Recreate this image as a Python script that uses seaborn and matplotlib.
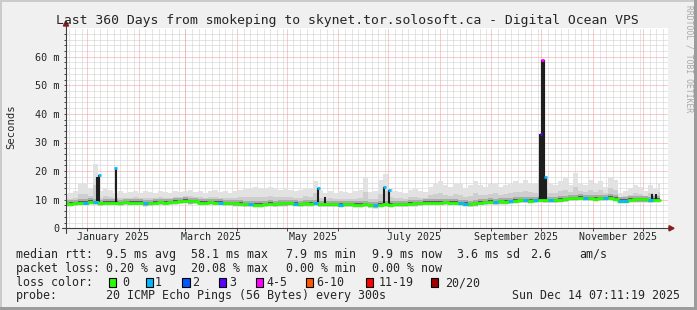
import numpy as np
import pandas as pd
import matplotlib
matplotlib.use("Agg")
import matplotlib.pyplot as plt
import seaborn as sns
from matplotlib.patches import Rectangle
from matplotlib.lines import Line2D

# ---------------- data ----------------
start = pd.Timestamp("2024-12-19 07:11:19")
span_days = 360
step_days = 3

median_ms = [8.7, 8.6, 8.8, 8.9, 9.0,
             9.3, 9.2,
             8.8, 8.9, 9.0,
             9.0, 8.8, 9.1, 8.9, 9.0,
             8.9, 8.7, 8.8, 9.0, 9.1, 9.0, 9.2, 9.3,
             9.5, 9.6, 9.4, 9.5,
             9.0, 8.9, 9.1, 9.0, 8.9, 8.8, 8.8,
             8.7, 8.6, 8.5, 8.4,
             8.3, 8.2, 8.4, 8.6, 8.5, 8.7,
             8.7, 8.8, 8.6, 8.5, 8.7, 8.6,
             8.8, 8.5, 8.4, 8.5, 8.4, 8.3, 8.4,
             8.4, 8.3, 8.2, 8.4, 8.1, 8.0, 8.2,
             8.4, 8.3, 8.4, 8.5, 8.5, 8.6, 8.7, 8.8, 8.9, 9.0, 8.9,
             9.0, 9.1, 8.9, 9.0, 8.8, 8.6,
             8.5, 8.7, 8.9,
             9.2, 9.3, 9.2, 9.4, 9.3, 9.5, 9.6,
             9.8, 9.9, 9.7, 9.9, 10.0,
             9.8, 9.9, 9.9, 10.0, 10.2,
             10.5, 10.6, 10.7, 10.5, 10.6, 10.4, 10.6, 10.5, 10.7, 10.4,
             9.6, 9.6,
             10.0, 10.1, 10.1, 10.1, 9.9, 10.0, 10.0]

smoke_max_ms = [12.0, 12.5, 13.0, 15.5, 15.8, 14.0,
                22.5,
                13.0, 14.0, 13.5, 12.5, 13.0, 12.5, 12.8, 13.0,
                12.5, 13.0, 12.8, 12.5, 13.0, 12.8, 12.5, 13.0, 12.8, 13.2,
                13.5, 12.8, 13.0, 12.5, 13.0, 13.3, 12.8, 13.0, 12.5,
                13.0, 13.5, 13.8, 14.0, 14.5, 14.0, 13.8, 14.5, 14.0, 13.5,
                14.0, 13.5, 13.0, 13.5, 14.2, 13.8,
                16.5,
                13.5, 12.5, 13.0, 12.5, 13.0, 12.8,
                12.5, 13.0, 13.5, 18.0, 12.8, 13.0, 17.0,
                19.0, 14.0, 13.0, 12.8, 12.5, 13.5, 14.0, 13.0, 12.8, 14.5, 15.5,
                16.5, 15.0, 14.5, 16.0, 15.5, 14.0, 15.0, 16.5, 15.0, 14.5,
                15.5, 16.0, 14.5, 15.0, 15.5, 16.5,
                16.0, 17.0, 16.0, 15.5, 25.0,
                18.0, 15.5, 15.0, 16.5, 17.5, 15.0, 19.5, 16.0, 15.0, 17.0,
                15.5, 16.5, 14.5, 18.0, 17.0,
                12.5, 13.0, 14.0, 15.0, 14.5, 13.0, 15.0, 14.0, 16.0]

loss_count = [0, 0, 0, 0, 1, 0, 1, 0, 0, 0, 0, 0, 0, 0, 0, 0, 1, 0, 0, 0,
              0, 0, 0, 0, 0, 0, 0, 0, 0, 0, 0, 1, 0, 0, 0, 0, 0, 1, 0, 0,
              0, 0, 0, 0, 0, 0, 1, 0, 0, 0, 1, 0, 0, 0, 0, 1, 0, 0, 0, 0,
              0, 0, 1, 0, 0, 0, 0, 0, 0, 0, 0, 0, 0, 0, 0, 0, 0, 0, 0, 1,
              1, 0, 0, 0, 0, 0, 1, 0, 0, 1, 0, 0, 1, 0, 1, 0, 0, 1, 0, 0,
              0, 0, 0, 0, 1, 0, 0, 0, 1, 0, 0, 1, 1, 0, 0, 0, 0, 1, 0, 0]

# short high-latency events (day offset, peak ms, loss count)
spike_day = [18.6, 20.1, 29.9, 151.6, 155.7, 191.3, 194.3, 286.4, 285.5, 288.2, 352.2, 354.6]
spike_top = [18.0, 18.8, 21.0, 14.0, 10.8, 14.3, 13.4, 59.0, 33.0, 18.0, 12.0, 12.0]
spike_loss = [0, 1, 1, 1, 0, 1, 1, 4, 3, 1, 0, 0]

legend_labels = ["0", "1", "2", "3", "4-5", "6-10", "11-19", "20/20"]
legend_colors = ["#26ff00", "#00b8ff", "#0059ff", "#5e00ff", "#ff00ff", "#ff5500", "#ff0000", "#a10000"]
loss_bins = [0, 1, 2, 3, 4, 6, 11, 20]

title = "Last 360 Days from smokeping to skynet.tor.solosoft.ca - Digital Ocean VPS"
ytick_vals = [0, 10, 20, 30, 40, 50, 60]
ytick_labels = ["0", "10 m", "20 m", "30 m", "40 m", "50 m", "60 m"]
month_label_names = ["January 2025", "March 2025", "May 2025", "July 2025",
                     "September 2025", "November 2025"]

df = pd.DataFrame({
    "day": np.arange(len(median_ms)) * step_days,
    "median": median_ms,
    "smax": smoke_max_ms,
    "loss": loss_count,
})


def loss_color(n):
    c = legend_colors[0]
    for b, col in zip(loss_bins, legend_colors):
        if n >= b:
            c = col
    return c


# ---------------- figure ----------------
sns.set_style("white")
plt.rcParams["font.family"] = ["DejaVu Sans Mono", "DejaVu Sans"]

W, H = 697, 310
fig = plt.figure(figsize=(W / 100, H / 100), dpi=100, facecolor="#f0f0f0")


def fx(x):
    return x / W


def fy(y):
    return 1 - y / H


px_per_day = 599.0 / 360.0
px_per_ms = 2.86
x0, y0 = 66.0, 228.3
ymax = 69.9
xmax = 361.8
ax_top = y0 - ymax * px_per_ms
ax_right = x0 + xmax * px_per_day
ax = fig.add_axes([fx(x0), fy(y0), fx(ax_right) - fx(x0), fy(ax_top) - fy(y0)])
ax.set_facecolor("white")
ax.set_xlim(0, xmax)
ax.set_ylim(0, ymax)
for s in ax.spines.values():
    s.set_visible(False)

# grid
dot = (0, (1, 1))
grid_gray = "#cdcdcd"
grid_red = "#f29a9a"
for v in np.arange(2, 70, 2):
    if v % 10:
        ax.axhline(v, color=grid_gray, lw=0.72, ls=dot, zorder=0)
months_all = pd.date_range("2024-12-01", "2025-12-01", freq="MS")
for m in months_all:
    for off in [4, 8, 12, 16, 20, 24, 28]:
        d = (m + pd.Timedelta(days=off) - start) / pd.Timedelta(days=1)
        if 0 < d < xmax:
            ax.axvline(d, color=grid_gray, lw=0.72, ls=dot, zorder=0)
month_starts = pd.date_range("2025-01-01", "2025-12-01", freq="MS")
ms_days = [(m - start) / pd.Timedelta(days=1) for m in month_starts]
for d in ms_days:
    ax.axvline(d, color=grid_red, lw=0.72, ls=dot, zorder=0.5)
for v in range(10, 70, 10):
    ax.axhline(v, color=grid_red, lw=0.72, ls=dot, zorder=0.5)

# smoke
days = df["day"].values
med = df["median"].values
smax = df["smax"].values
ax.fill_between(days, med - 1.1, smax, step="mid", color="#e2e2e2", lw=0, zorder=1)
ax.fill_between(days, med - 0.9, med + 0.45 * (smax - med), step="mid", color="#cecece", lw=0, zorder=1.05)
ax.fill_between(days, med - 0.75, np.minimum(med + 1.2, smax), step="mid", color="#aaaaaa", lw=0, zorder=1.1)
ax.fill_between(days, med - 0.55, med + 0.5, step="mid", color="#5e5e5e", lw=0, zorder=1.2)

# spikes
for d, t, l in zip(spike_day, spike_top, spike_loss):
    base = np.interp(d, days, med)
    lw = 3.0 if t > 30 else 1.5
    ax.vlines(d, base, t, color="#1e1e1e", lw=lw, zorder=2)

# median line
sns.lineplot(data=df, x="day", y="median", drawstyle="steps-mid", color=legend_colors[0],
             lw=2.0, ax=ax, zorder=3, legend=False)
for d, m, l in zip(days, med, df["loss"].values):
    if l > 0:
        ax.hlines(m, d - step_days / 2, d + step_days / 2, color=loss_color(l), lw=2.0, zorder=3.1)
for d, t, l in zip(spike_day, spike_top, spike_loss):
    if l > 0:
        ax.hlines(t, d - 0.8, d + 0.8, color=loss_color(l), lw=2.0, zorder=3.2)

ax.set_xlabel("")
ax.set_ylabel("")

# ticks
ax.set_yticks(ytick_vals)
ax.set_yticklabels(ytick_labels)
ax.set_yticks(np.arange(2, 70, 2), minor=True)
ax.tick_params(axis="y", which="both", direction="out", length=1.8, width=0.7,
               color="#444444", labelsize=7.3, pad=3.2, left=True)
label_days = []
for name in month_label_names:
    m = pd.Timestamp(pd.to_datetime(name, format="%B %Y"))
    nxt = m + pd.offsets.MonthBegin(1)
    label_days.append(((m + (nxt - m) / 2) - start) / pd.Timedelta(days=1))
ax.set_xticks(label_days)
ax.set_xticklabels(month_label_names)
ax.set_xticks(ms_days, minor=True)
ax.tick_params(axis="x", which="major", length=0, labelsize=7.2, pad=3.0)
ax.tick_params(axis="x", which="minor", direction="out", length=2.5, width=0.7,
               color="#444444", bottom=True)

# axes lines with arrows
axis_col = "#404040"
fig.add_artist(Line2D([fx(62), fx(669)], [fy(y0), fy(y0)], color=axis_col, lw=0.8))
fig.add_artist(Line2D([fx(x0), fx(x0)], [fy(233), fy(25)], color=axis_col, lw=0.8))
fig.add_artist(plt.Polygon([[fx(669), fy(y0 - 2.6)], [fx(669), fy(y0 + 2.6)], [fx(674), fy(y0)]],
                           closed=True, color="#8b1a1a", transform=fig.transFigure))
fig.add_artist(plt.Polygon([[fx(x0 - 2.6), fy(26)], [fx(x0 + 2.6), fy(26)], [fx(x0), fy(21)]],
                           closed=True, color="#8b1a1a", transform=fig.transFigure))

# texts
fig.text(fx(347.5), fy(24), title, ha="center", va="baseline", fontsize=9.45)
fig.text(fx(10.8), fy(127), "Seconds", rotation=90, ha="center", va="center", fontsize=7.6)
fig.text(fx(688.5), fy(5), "RRDTOOL / TOBI OETIKER", rotation=270, ha="center", va="top",
         fontsize=5.8, color="#a8a8a8")

fs = 8.4
rows = [
    (257.7, [(16, "median rtt:"), (106.3, "9.5 ms avg"), (191.5, "58.1 ms max"),
             (285.8, "7.9 ms min"), (371.5, "9.9 ms now"), (457.3, "3.6 ms sd"),
             (530.0, "2.6"), (579.0, "am/s")]),
    (271.7, [(16, "packet loss:"), (106.3, "0.20 % avg"), (191.5, "20.08 % max"),
             (285.8, "0.00 % min"), (371.5, "0.00 % now")]),
    (299.3, [(16, "probe:"), (106.3, "20 ICMP Echo Pings (56 Bytes) every 300s")]),
]
for yb, items in rows:
    for x, t in items:
        fig.text(fx(x), fy(yb), t, ha="left", va="baseline", fontsize=fs)
fig.text(fx(680.5), fy(299.3), "Sun Dec 14 07:11:19 2025", ha="right", va="baseline", fontsize=fs)

fig.text(fx(16), fy(286.0), "loss color:", ha="left", va="baseline", fontsize=fs)
box_x = [108.7, 145.7, 182.3, 219.0, 256.0, 306.0, 365.7, 430.7]
lab_x = [122.0, 155.0, 192.0, 229.0, 266.0, 316.0, 379.0, 445.0]
for bx, lx, lab, col in zip(box_x, lab_x, legend_labels, legend_colors):
    fig.add_artist(Rectangle((fx(bx), fy(286.7)), 7.3 / W, 8.4 / H, transform=fig.transFigure,
                             facecolor=col, edgecolor="black", lw=0.8))
    fig.text(fx(lx), fy(286.0), lab, ha="left", va="baseline", fontsize=fs)

# frame shading
fig.add_artist(Rectangle((0, 0), 2 / W, 1, transform=fig.transFigure, color="#cbcbcb", lw=0))
fig.add_artist(Rectangle((0, 1 - 2 / H), 1, 2 / H, transform=fig.transFigure, color="#cbcbcb", lw=0))
fig.add_artist(Rectangle((1 - 3 / W, 0), 3 / W, 1, transform=fig.transFigure, color="#9c9c9c", lw=0))
fig.add_artist(Rectangle((0, 0), 1, 3 / H, transform=fig.transFigure, color="#9c9c9c", lw=0))

fig.savefig("out.png", dpi=100, facecolor=fig.get_facecolor())
